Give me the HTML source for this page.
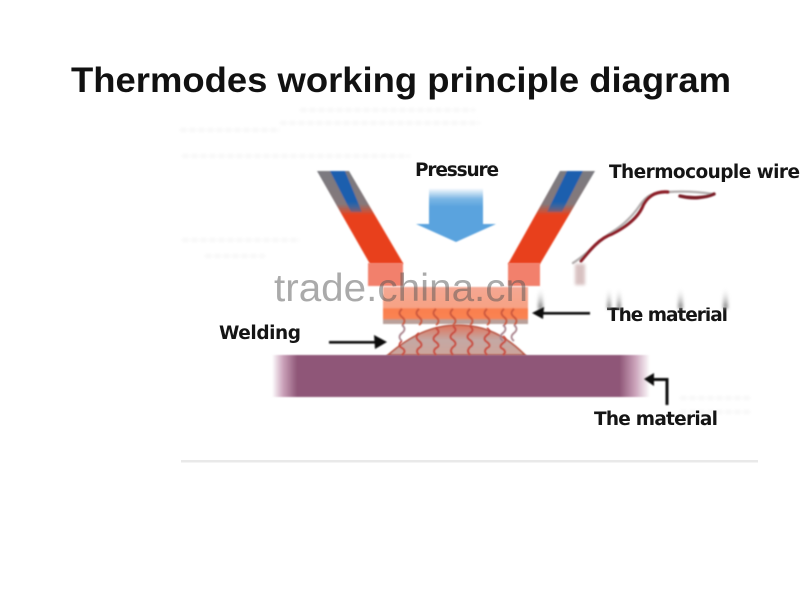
<!DOCTYPE html>
<html>
<head>
<meta charset="utf-8">
<style>
html,body{margin:0;padding:0;background:#fff;width:800px;height:600px;overflow:hidden}
svg{display:block}
text{font-family:"Liberation Sans",sans-serif}
.l{font-family:"DejaVu Sans",sans-serif;font-weight:bold;fill:#151515}
</style>
</head>
<body>
<svg width="800" height="600" viewBox="0 0 800 600" xmlns="http://www.w3.org/2000/svg">
<defs>
<filter id="b1" x="-20%" y="-20%" width="140%" height="140%"><feGaussianBlur stdDeviation="0.7"/></filter>
<filter id="b2" x="-50%" y="-20%" width="200%" height="140%"><feGaussianBlur stdDeviation="1.5"/></filter>
<filter id="b3" x="-5%" y="-300%" width="110%" height="700%"><feGaussianBlur stdDeviation="1.6"/></filter>
<linearGradient id="arm" x1="0" y1="171" x2="0" y2="263" gradientUnits="userSpaceOnUse">
<stop offset="0" stop-color="#7a7a80"/><stop offset=".36" stop-color="#85787a"/><stop offset=".48" stop-color="#e8401c"/><stop offset="1" stop-color="#e8401c"/>
</linearGradient>
<linearGradient id="blue" x1="0" y1="171" x2="0" y2="218" gradientUnits="userSpaceOnUse">
<stop offset="0" stop-color="#1c5fae"/><stop offset=".65" stop-color="#1c5fae"/><stop offset="1" stop-color="#1c5fae" stop-opacity="0"/>
</linearGradient>
<linearGradient id="arrow" x1="0" y1="188" x2="0" y2="242" gradientUnits="userSpaceOnUse">
<stop offset="0" stop-color="#fff"/><stop offset=".2" stop-color="#7bb6e4"/><stop offset=".35" stop-color="#5aa3de"/><stop offset="1" stop-color="#5aa3de"/>
</linearGradient>
<linearGradient id="barL" x1="272" y1="0" x2="650" y2="0" gradientUnits="userSpaceOnUse">
<stop offset="0" stop-color="#c9a0b8" stop-opacity="0"/><stop offset=".03" stop-color="#c9a0b8"/><stop offset=".066" stop-color="#8f5778"/><stop offset=".92" stop-color="#8f5778"/><stop offset=".96" stop-color="#c9a0b8"/><stop offset="1" stop-color="#c9a0b8" stop-opacity="0"/>
</linearGradient>
<linearGradient id="mat" x1="0" y1="287" x2="0" y2="324" gradientUnits="userSpaceOnUse">
<stop offset="0" stop-color="#f4a793"/><stop offset=".55" stop-color="#f7a284"/><stop offset=".6" stop-color="#fa7f4e"/><stop offset=".85" stop-color="#f98352"/><stop offset=".9" stop-color="#b9a09a"/><stop offset="1" stop-color="#b9a09a"/>
</linearGradient>
<linearGradient id="bump" x1="0" y1="325" x2="0" y2="355" gradientUnits="userSpaceOnUse">
<stop offset="0" stop-color="#e0745a"/><stop offset=".5" stop-color="#c4a8a4"/><stop offset="1" stop-color="#cda49a"/>
</linearGradient>
<linearGradient id="smudge" x1="0" y1="287" x2="0" y2="312" gradientUnits="userSpaceOnUse">
<stop offset="0" stop-color="#fff" stop-opacity="0"/><stop offset=".8" stop-color="#888"/><stop offset="1" stop-color="#888" stop-opacity=".2"/>
</linearGradient>
</defs>

<text x="71" y="92" font-size="35" font-weight="bold" fill="#111" textLength="660" lengthAdjust="spacingAndGlyphs">Thermodes working principle diagram</text>

<!-- faint ghost text -->
<g stroke="#f5f5f5" stroke-width="3" filter="url(#b3)" fill="none" stroke-dasharray="7 2">
<path d="M300 110H475"/>
<path d="M280 123H480"/>
<path d="M180 130H280"/>
<path d="M182 156H410"/>
<path d="M182 240H300"/>
<path d="M205 256H265"/>
<path d="M680 398H750"/>
<path d="M680 412H750"/>
</g>

<!-- arms -->
<g filter="url(#b1)">
<polygon points="317,171 349,171 403,263 403,264 370,264" fill="url(#arm)"/>
<polygon points="330,171 345,171 362,212 351,212" fill="url(#blue)"/>
<polygon points="560,171 595,171 540,264 508,264" fill="url(#arm)"/>
<polygon points="567,171 583,171 562,212 547,212" fill="url(#blue)"/>
</g>

<!-- pressure arrow -->
<polygon points="429,188 483,188 483,224 496,224 456,242 416,224 429,224" fill="url(#arrow)" filter="url(#b1)"/>

<!-- blocks -->
<rect x="368" y="263" width="35" height="23" fill="#f2806c" filter="url(#b1)"/>
<rect x="508" y="263" width="32" height="23" fill="#f2806c" filter="url(#b1)"/>

<!-- upper material -->
<rect x="383" y="287" width="145" height="37" fill="url(#mat)" filter="url(#b1)"/>

<!-- lower bar and bump -->
<path d="M388 355C410 336 432 325 458 325C485 325 506 336 525 355Z" fill="url(#bump)" stroke="#b8523f" stroke-width="1.6" filter="url(#b1)"/>
<rect x="272" y="355" width="378" height="42" fill="url(#barL)" filter="url(#b1)"/>

<!-- wavy wires -->
<g fill="none" stroke-width="1.8" filter="url(#b1)">
<g stroke="#c9563c">
<path d="M402 309q-5 4 0 8q5 4 0 8"/>
<path d="M419 309q-5 4 0 8q5 4 0 8"/>
<path d="M436 309q-5 4 0 8q5 4 0 8"/>
<path d="M453 309q-5 4 0 8q5 4 0 8"/>
<path d="M470 309q-5 4 0 8q5 4 0 8"/>
<path d="M487 309q-5 4 0 8q5 4 0 8"/>
<path d="M504 309q-5 4 0 8q5 4 0 8"/>
<path d="M514 309q-5 4 0 8q5 4 0 8"/>
</g>
<g stroke="#a8828c">
<path d="M402 325q5 4 0 8q-5 4 0 8"/>
<path d="M503 325q5 4 0 8q-5 4 0 8"/>
<path d="M514 325q5 4 0 8q-5 4 0 8"/>
</g>
<g stroke="#c9483c">
<path d="M402 341q-5 4 0 7q5 3 0 7"/>
<path d="M419 333q-5 4 0 8q5 4 0 7q-4 3 0 7"/>
<path d="M436 328q5 4 0 7q-5 4 0 7q5 4 0 6q-4 3 0 7"/>
<path d="M453 326q5 4 0 7q-5 4 0 7q5 4 0 7q-4 4 0 8"/>
<path d="M470 326q5 4 0 7q-5 4 0 7q5 4 0 7q-4 4 0 8"/>
<path d="M487 328q5 4 0 7q-5 4 0 7q5 4 0 6q-4 3 0 7"/>
<path d="M503 336q5 4 0 7q-5 4 0 6q4 3 0 6"/>
</g>
</g>

<!-- watermark -->
<text x="274" y="301" font-size="38.5" fill="#555" fill-opacity=".5" textLength="254" lengthAdjust="spacingAndGlyphs">trade.china.cn</text>

<!-- thermocouple wire -->
<g fill="none" stroke-linecap="round" filter="url(#b1)">
<path d="M573 263C590 252 600 240 612 232C625 224 634 214 640 205C647 195 652 193 668 192C685 191 700 192 713 194" stroke="#b5b0b0" stroke-width="2.4"/>
<path d="M581 261C590 250 600 238 612 234C624 228 636 220 642 208C646 197 655 191 668 192" stroke="#8c1f28" stroke-width="3.2"/>
<path d="M680 196C692 199 705 198 714 194" stroke="#7a1c28" stroke-width="3.4"/>
</g>
<rect x="575" y="264" width="10" height="21" fill="#c8a8a8" filter="url(#b2)" opacity=".7"/>

<!-- labels -->
<text class="l" x="415" y="176" font-size="18.5" textLength="84" lengthAdjust="spacing">Pressure</text>
<text class="l" x="609" y="178" font-size="18.5" textLength="191" lengthAdjust="spacing">Thermocouple wire</text>
<text class="l" x="607" y="321" font-size="18.5" textLength="121" lengthAdjust="spacing">The material</text>
<text class="l" x="219" y="339" font-size="18.5" textLength="82" lengthAdjust="spacing">Welding</text>
<text class="l" x="594" y="425" font-size="18.5" textLength="124" lengthAdjust="spacing">The material</text>

<!-- clipped top of the upper label, then smudges -->
<rect x="604" y="303" width="125" height="4.5" fill="#fff"/>
<g fill="url(#smudge)" filter="url(#b2)">
<rect x="538" y="287" width="5" height="25"/>
<rect x="607" y="287" width="4" height="22"/>
<rect x="617" y="287" width="4" height="22"/>
<rect x="678" y="287" width="5" height="22"/>
<rect x="723" y="287" width="5" height="22"/>
</g>

<!-- arrows -->
<g fill="#111" filter="url(#b1)">
<rect x="543" y="312" width="47" height="2.6"/>
<polygon points="532,313 544,307 543,319"/>
<rect x="329" y="341" width="48" height="2.6"/>
<polygon points="387,342 374,335 375,349"/>
<polygon points="644,379 654,373 654,386"/>
<rect x="652" y="378" width="16" height="3"/>
<rect x="665.5" y="378" width="3" height="27"/>
</g>

<!-- bottom rule -->
<rect x="181" y="460" width="577" height="2.5" fill="#e9e9e9"/>
</svg>
</body>
</html>
